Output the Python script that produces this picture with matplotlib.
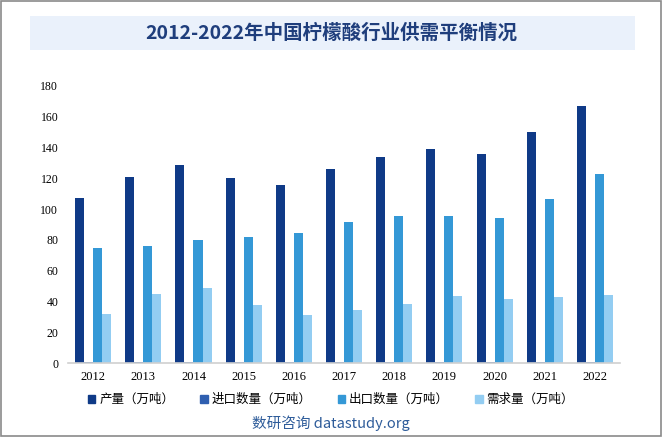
import matplotlib.pyplot as plt
import numpy as np
from matplotlib.patches import Rectangle, Patch

years = ['2012', '2013', '2014', '2015', '2016', '2017', '2018', '2019', '2020', '2021', '2022']
production = [107.2, 120.9, 128.7, 120.2, 115.7, 126.0, 133.9, 139.0, 135.8, 150.0, 167.0]
imports = [0.6, 0.6, 0.6, 0.6, 0.6, 0.6, 0.6, 0.6, 0.6, 0.6, 0.6]
exports = [74.7, 76.0, 80.0, 81.9, 84.5, 91.6, 95.5, 95.5, 94.2, 106.6, 122.8]
demand = [31.8, 44.8, 48.7, 37.7, 31.2, 34.4, 38.3, 43.5, 41.6, 42.9, 44.2]

series_names = ['产量（万吨）', '进口数量（万吨）', '出口数量（万吨）', '需求量（万吨）']
colors = ['#0F3A87', '#2F5FB0', '#3498D6', '#93CDF2']

plt.rcParams['font.family'] = ['Noto Sans CJK SC', 'DejaVu Sans']

fig = plt.figure(figsize=(6.62, 4.38), dpi=100)
ax = fig.add_axes([0.1027, 0.1712, 0.834, 0.6325])

x = np.arange(len(years))
w = 0.18
for i, vals in enumerate([production, imports, exports, demand]):
    ax.bar(x + (i - 1.5) * w, vals, width=w, color=colors[i])

ax.set_xlim(-0.5, len(years) - 0.5)
ax.set_ylim(0, 180)
ax.set_yticks(range(0, 181, 20))
ax.set_xticks(x)
ax.set_xticklabels(years, family='Liberation Serif', fontsize=9)
for lab in ax.get_yticklabels():
    lab.set_family('Liberation Serif')
    lab.set_fontsize(8.5)
ax.tick_params(axis='both', length=0)
ax.tick_params(axis='y', pad=7)
ax.tick_params(axis='x', pad=6)
for s in ['top', 'right', 'left']:
    ax.spines[s].set_visible(False)
ax.spines['bottom'].set_color('#D0D0D0')
ax.spines['bottom'].set_linewidth(1.2)

handles = [Patch(color=c) for c in colors]
fig.legend(handles, series_names, loc='center', bbox_to_anchor=(0.5, 0.088),
           ncol=4, frameon=False, fontsize=9, handlelength=0.6, handleheight=0.6,
           handletextpad=0.3, columnspacing=2.1)

# title band
fig.patches.append(Rectangle((0.045, 0.886), 0.914, 0.078, transform=fig.transFigure,
                             facecolor='#EAF1FB', edgecolor='none'))
fig.text(0.5, 0.924, '2012-2022年中国柠檬酸行业供需平衡情况', ha='center', va='center',
         fontsize=14, fontweight='bold', color='#1F3E7C')

fig.text(0.5, 0.034, '数研咨询 datastudy.org', ha='center', va='center',
         fontsize=10.5, color='#2E5C9A')

# outer border
fig.patches.append(Rectangle((0.001, 0.004), 0.997, 0.994, transform=fig.transFigure,
                             facecolor='none', edgecolor='#8A8A8A', linewidth=1.2))

fig.savefig('out.png', dpi=100)
